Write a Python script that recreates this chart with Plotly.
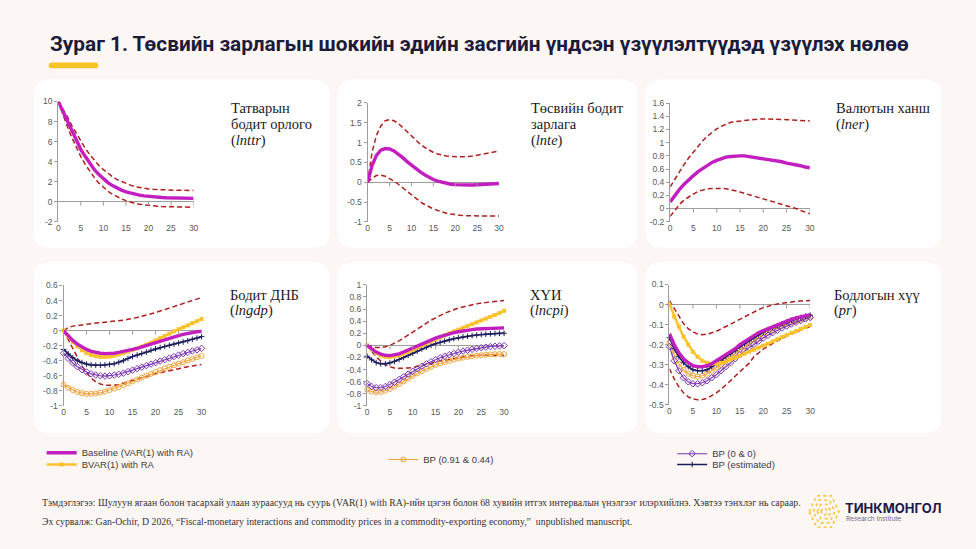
import plotly.graph_objects as go

W, H = 976, 549


def px(x):
    return x / W


def py(y):
    return 1 - y / H


# ---------------- data ----------------
horizon = list(range(31))
xtick_vals = [0, 5, 10, 15, 20, 25, 30]

# Panel 1: lnttr
lnttr_base = [10, 9.0, 8.0, 7.0, 6.1, 5.2, 4.5, 3.8, 3.2, 2.7, 2.25, 1.9, 1.6, 1.35, 1.15, 0.98,
              0.85, 0.74, 0.65, 0.58, 0.52, 0.48, 0.44, 0.41, 0.39, 0.37, 0.36, 0.35, 0.34, 0.34, 0.33]
lnttr_up = [10, 9.3, 8.5, 7.6, 6.8, 6.0, 5.3, 4.7, 4.1, 3.6, 3.2, 2.8, 2.5, 2.2, 2.0, 1.8,
            1.65, 1.5, 1.4, 1.33, 1.27, 1.23, 1.2, 1.18, 1.16, 1.15, 1.14, 1.13, 1.13, 1.12, 1.12]
lnttr_lo = [10, 8.7, 7.5, 6.4, 5.4, 4.5, 3.7, 3.0, 2.4, 1.85, 1.4, 1.05, 0.75, 0.5, 0.28, 0.1,
            -0.05, -0.17, -0.26, -0.33, -0.39, -0.43, -0.47, -0.49, -0.51, -0.53, -0.54, -0.55, -0.55, -0.56, -0.56]

# Panel 2: lnte
lnte_base = [0, 0.42, 0.68, 0.81, 0.85, 0.84, 0.79, 0.71, 0.62, 0.52, 0.43, 0.34, 0.26, 0.19, 0.12, 0.07,
             0.03, 0.0, -0.03, -0.05, -0.06, -0.07, -0.07, -0.07, -0.07, -0.065, -0.06, -0.05, -0.045, -0.04, -0.03]
lnte_up = [0, 0.75, 1.18, 1.42, 1.55, 1.58, 1.55, 1.48, 1.38, 1.27, 1.16, 1.05, 0.96, 0.88, 0.81, 0.75,
           0.71, 0.68, 0.66, 0.65, 0.64, 0.64, 0.645, 0.65, 0.66, 0.68, 0.70, 0.72, 0.74, 0.76, 0.79]
lnte_lo = [0, 0.1, 0.17, 0.18, 0.15, 0.1, 0.03, -0.05, -0.14, -0.23, -0.32, -0.41, -0.49, -0.56, -0.62, -0.67,
           -0.71, -0.75, -0.78, -0.8, -0.82, -0.83, -0.84, -0.845, -0.85, -0.85, -0.85, -0.85, -0.85, -0.85, -0.85]

# Panel 3: lner
lner_base = [0.1, 0.2, 0.29, 0.37, 0.44, 0.5, 0.56, 0.61, 0.66, 0.7, 0.73, 0.76, 0.78, 0.79, 0.8, 0.8,
             0.8, 0.79, 0.78, 0.77, 0.76, 0.75, 0.73, 0.72, 0.71, 0.69, 0.68, 0.66, 0.65, 0.63, 0.62]
lner_up = [0.33, 0.45, 0.56, 0.67, 0.77, 0.86, 0.95, 1.03, 1.1, 1.16, 1.21, 1.25, 1.28, 1.31, 1.32, 1.33,
           1.34, 1.35, 1.355, 1.36, 1.36, 1.36, 1.36, 1.355, 1.35, 1.35, 1.345, 1.34, 1.34, 1.335, 1.33]
lner_lo = [-0.12, -0.02, 0.06, 0.13, 0.18, 0.22, 0.26, 0.28, 0.3, 0.305, 0.31, 0.305, 0.3, 0.29, 0.27, 0.25,
           0.23, 0.21, 0.19, 0.17, 0.15, 0.13, 0.1, 0.08, 0.06, 0.04, 0.02, 0.0, -0.03, -0.05, -0.08]

# Panel 4: lngdp
lngdp_base = [0, -0.07, -0.13, -0.18, -0.22, -0.25, -0.275, -0.29, -0.3, -0.305, -0.305, -0.3, -0.29, -0.28, -0.265, -0.25,
              -0.235, -0.215, -0.195, -0.175, -0.155, -0.135, -0.115, -0.095, -0.08, -0.065, -0.05, -0.035, -0.025, -0.015, -0.01]
lngdp_bvar = [0, -0.08, -0.15, -0.21, -0.26, -0.3, -0.325, -0.34, -0.35, -0.35, -0.345, -0.335, -0.32, -0.3, -0.28, -0.26,
              -0.235, -0.21, -0.185, -0.16, -0.13, -0.1, -0.07, -0.04, -0.01, 0.02, 0.045, 0.07, 0.1, 0.125, 0.155]
lngdp_bp_est = [-0.25, -0.31, -0.36, -0.4, -0.425, -0.445, -0.455, -0.46, -0.46, -0.455, -0.45, -0.44, -0.42, -0.4, -0.37, -0.345,
                -0.325, -0.305, -0.285, -0.26, -0.24, -0.225, -0.21, -0.195, -0.18, -0.165, -0.15, -0.135, -0.115, -0.1, -0.08]
lngdp_bp00 = [-0.3, -0.37, -0.43, -0.48, -0.52, -0.55, -0.575, -0.59, -0.6, -0.605, -0.6, -0.59, -0.58, -0.565, -0.545, -0.525,
              -0.505, -0.485, -0.465, -0.445, -0.425, -0.405, -0.385, -0.365, -0.345, -0.325, -0.305, -0.29, -0.27, -0.255, -0.235]
lngdp_bp91 = [-0.72, -0.76, -0.79, -0.815, -0.83, -0.84, -0.84, -0.835, -0.825, -0.81, -0.79, -0.77, -0.75, -0.725, -0.7, -0.675,
              -0.65, -0.625, -0.6, -0.575, -0.55, -0.525, -0.5, -0.48, -0.46, -0.44, -0.42, -0.395, -0.375, -0.355, -0.335]
lngdp_up = [0, 0.04, 0.06, 0.07, 0.08, 0.09, 0.095, 0.1, 0.105, 0.11, 0.115, 0.12, 0.13, 0.14, 0.15, 0.16,
            0.175, 0.19, 0.205, 0.22, 0.24, 0.26, 0.28, 0.3, 0.32, 0.34, 0.36, 0.38, 0.4, 0.42, 0.44]
lngdp_lo = [0, -0.12, -0.24, -0.36, -0.47, -0.56, -0.63, -0.68, -0.71, -0.725, -0.73, -0.725, -0.715, -0.7, -0.685, -0.665,
            -0.645, -0.625, -0.605, -0.59, -0.575, -0.56, -0.545, -0.53, -0.515, -0.5, -0.49, -0.48, -0.47, -0.46, -0.45]

# Panel 5: lncpi
lncpi_base = [0, -0.06, -0.11, -0.145, -0.165, -0.17, -0.16, -0.14, -0.11, -0.075, -0.04, -0.005, 0.03, 0.065, 0.095, 0.12,
              0.145, 0.17, 0.19, 0.21, 0.225, 0.24, 0.25, 0.26, 0.27, 0.275, 0.28, 0.283, 0.285, 0.287, 0.288]
lncpi_bvar = [0, -0.07, -0.13, -0.17, -0.19, -0.195, -0.185, -0.165, -0.14, -0.11, -0.075, -0.04, -0.005, 0.03, 0.065, 0.1,
              0.13, 0.165, 0.2, 0.23, 0.26, 0.29, 0.32, 0.35, 0.38, 0.41, 0.44, 0.47, 0.5, 0.535, 0.57]
lncpi_bp_est = [-0.18, -0.24, -0.285, -0.305, -0.305, -0.29, -0.265, -0.235, -0.2, -0.165, -0.13, -0.095, -0.06, -0.03, 0.0, 0.025,
                0.05, 0.07, 0.09, 0.11, 0.125, 0.14, 0.15, 0.16, 0.17, 0.178, 0.185, 0.19, 0.195, 0.198, 0.2]
lncpi_bp00 = [-0.63, -0.68, -0.7, -0.7, -0.68, -0.65, -0.61, -0.565, -0.52, -0.475, -0.43, -0.385, -0.345, -0.305, -0.27, -0.235,
              -0.205, -0.18, -0.155, -0.135, -0.115, -0.095, -0.08, -0.065, -0.05, -0.04, -0.03, -0.02, -0.015, -0.01, -0.005]
lncpi_bp91 = [-0.73, -0.765, -0.775, -0.77, -0.75, -0.72, -0.68, -0.64, -0.595, -0.55, -0.505, -0.465, -0.425, -0.39, -0.355, -0.325,
              -0.3, -0.275, -0.255, -0.235, -0.22, -0.205, -0.19, -0.18, -0.17, -0.162, -0.155, -0.15, -0.147, -0.145, -0.145]
lncpi_up = [0, -0.02, -0.035, -0.035, -0.025, 0.0, 0.035, 0.075, 0.12, 0.17, 0.22, 0.27, 0.32, 0.37, 0.415, 0.455,
            0.495, 0.53, 0.56, 0.59, 0.615, 0.635, 0.655, 0.67, 0.685, 0.7, 0.71, 0.72, 0.73, 0.735, 0.74]
lncpi_lo = [0, -0.1, -0.19, -0.26, -0.32, -0.355, -0.375, -0.38, -0.38, -0.375, -0.365, -0.35, -0.335, -0.315, -0.295, -0.275,
            -0.26, -0.245, -0.23, -0.215, -0.2, -0.19, -0.18, -0.172, -0.166, -0.162, -0.16, -0.16, -0.162, -0.165, -0.17]

# Panel 6: pr
pr_base = [-0.145, -0.2, -0.24, -0.27, -0.29, -0.305, -0.31, -0.31, -0.305, -0.295, -0.28, -0.265, -0.25, -0.235, -0.22, -0.2,
           -0.185, -0.17, -0.155, -0.14, -0.13, -0.12, -0.11, -0.1, -0.09, -0.082, -0.074, -0.067, -0.06, -0.055, -0.05]
pr_bvar = [0, -0.06, -0.11, -0.16, -0.2, -0.235, -0.26, -0.28, -0.29, -0.295, -0.295, -0.29, -0.285, -0.275, -0.265, -0.255,
           -0.245, -0.235, -0.225, -0.215, -0.205, -0.195, -0.184, -0.173, -0.162, -0.152, -0.142, -0.132, -0.122, -0.112, -0.102]
pr_bp_est = [-0.165, -0.22, -0.26, -0.29, -0.31, -0.325, -0.33, -0.33, -0.325, -0.31, -0.295, -0.28, -0.26, -0.245, -0.23, -0.21,
             -0.195, -0.18, -0.165, -0.15, -0.137, -0.125, -0.115, -0.105, -0.095, -0.087, -0.078, -0.071, -0.064, -0.058, -0.053]
pr_bp00 = [-0.21, -0.28, -0.33, -0.365, -0.385, -0.395, -0.395, -0.39, -0.38, -0.365, -0.35, -0.33, -0.31, -0.29, -0.27, -0.25,
           -0.232, -0.215, -0.198, -0.182, -0.167, -0.153, -0.14, -0.128, -0.117, -0.107, -0.097, -0.088, -0.08, -0.072, -0.065]
pr_bp91 = [-0.19, -0.25, -0.295, -0.325, -0.345, -0.355, -0.36, -0.355, -0.345, -0.33, -0.315, -0.3, -0.28, -0.26, -0.245, -0.225,
           -0.21, -0.195, -0.18, -0.165, -0.152, -0.14, -0.128, -0.117, -0.107, -0.098, -0.09, -0.082, -0.075, -0.068, -0.062]
pr_up = [0.02, -0.02, -0.06, -0.095, -0.12, -0.137, -0.147, -0.15, -0.148, -0.142, -0.133, -0.122, -0.11, -0.097, -0.084, -0.07,
         -0.058, -0.046, -0.035, -0.025, -0.016, -0.008, -0.002, 0.003, 0.007, 0.011, 0.014, 0.016, 0.018, 0.019, 0.02]
pr_lo = [-0.32, -0.37, -0.41, -0.44, -0.46, -0.47, -0.475, -0.473, -0.467, -0.455, -0.44, -0.422, -0.402, -0.38, -0.357, -0.335,
         -0.313, -0.292, -0.26, -0.24, -0.222, -0.207, -0.193, -0.18, -0.168, -0.157, -0.146, -0.136, -0.127, -0.118, -0.11]

# y-axis tick labels per panel
yticks_lnttr = [-2, 0, 2, 4, 6, 8, 10]
yticks_lnte = [-1, -0.5, 0, 0.5, 1, 1.5, 2]
yticks_lner = [-0.2, 0, 0.2, 0.4, 0.6, 0.8, 1, 1.2, 1.4, 1.6]
yticks_lngdp = [-1, -0.8, -0.6, -0.4, -0.2, 0, 0.2, 0.4, 0.6]
yticks_lncpi = [-1, -0.8, -0.6, -0.4, -0.2, 0, 0.2, 0.4, 0.6, 0.8, 1]
yticks_pr = [-0.5, -0.4, -0.3, -0.2, -0.1, 0, 0.1]

series_names = {
    "base": "Baseline (VAR(1) with RA)",
    "bvar": "BVAR(1) with RA",
    "bp91": "BP (0.91 & 0.44)",
    "bp00": "BP (0 & 0)",
    "bpest": "BP (estimated)",
}

title_text = "Зураг 1. Төсвийн зарлагын шокийн эдийн засгийн үндсэн үзүүлэлтүүдэд үзүүлэх нөлөө"
note_text = ("Тэмдэглэгээ: Шулуун ягаан болон тасархай улаан зураасууд нь суурь (VAR(1) with RA)-ийн цэгэн болон "
             "68 хувийн итгэх интервалын үнэлгээг илэрхийлнэ. Хэвтээ тэнхлэг нь сараар.")
source_text = ("Эх сурвалж: Gan-Ochir, D 2026, “Fiscal-monetary interactions and commodity prices in a "
               "commodity-exporting economy,”  unpublished manuscript.")

# ---------------- styles ----------------
BG = "#fcf6f5"
AXIS = "#9c9c9c"
TICKFONT = dict(family="Liberation Sans, Arial, sans-serif", size=8.5, color="#595959")
SERIF = "Liberation Serif, Times New Roman, serif"

STY = {
    "band": dict(mode="lines", line=dict(color="#b01e1e", width=1.5, dash="5px,3px")),
    "base": dict(mode="lines", line=dict(color="#c21ec0", width=3.4)),
    "bvar": dict(mode="lines+markers", line=dict(color="#fcc22b", width=2.4),
                 marker=dict(symbol="square", size=4, color="#fcc22b")),
    "bp91": dict(mode="lines+markers", line=dict(color="#f0a23a", width=1.1),
                 marker=dict(symbol="circle-open", size=5, color="#f0a23a", line=dict(width=1))),
    "bp00": dict(mode="lines+markers", line=dict(color="#7a35b0", width=1.1),
                 marker=dict(symbol="diamond-open", size=5, color="#7a35b0", line=dict(width=1))),
    "bpest": dict(mode="lines+markers", line=dict(color="#1d1d5e", width=1.6),
                  marker=dict(symbol="cross-thin", size=4, color="#1d1d5e", line=dict(width=1, color="#1d1d5e"))),
}

panels = [
    dict(title=["Татварын", "бодит орлого", "(<i>lnttr</i>)"], tx=229, ty=105,
         xd=(56.7, 193), yd=(98.3, 220.7), yr=(-2, 10), yt=yticks_lnttr,
         series=[("band", lnttr_up), ("band", lnttr_lo), ("base", lnttr_base)]),
    dict(title=["Төсвийн бодит", "зарлага", "(<i>lnte</i>)"], tx=531, ty=105,
         xd=(368.3, 500.7), yd=(99.7, 221), yr=(-1, 2), yt=yticks_lnte,
         series=[("band", lnte_up), ("band", lnte_lo), ("base", lnte_base)]),
    dict(title=["Валютын ханш", "(<i>lner</i>)"], tx=838, ty=105,
         xd=(673, 813.7), yd=(100, 220.7), yr=(-0.2, 1.6), yt=yticks_lner,
         series=[("band", lner_up), ("band", lner_lo), ("base", lner_base)]),
    dict(title=["Бодит ДНБ", "(<i>lngdp</i>)"], tx=228, ty=295,
         xd=(62, 201), yd=(285.7, 408.3), yr=(-1, 0.6), yt=yticks_lngdp,
         series=[("band", lngdp_up), ("band", lngdp_lo), ("bp91", lngdp_bp91), ("bp00", lngdp_bp00),
                 ("bpest", lngdp_bp_est), ("bvar", lngdp_bvar), ("base", lngdp_base)], legend=True),
    dict(title=["ХҮИ", "(<i>lncpi</i>)"], tx=530, ty=295,
         xd=(367.7, 505.7), yd=(285, 408.3), yr=(-1, 1), yt=yticks_lncpi,
         series=[("band", lncpi_up), ("band", lncpi_lo), ("bp91", lncpi_bp91), ("bp00", lncpi_bp00),
                 ("bpest", lncpi_bp_est), ("bvar", lncpi_bvar), ("base", lncpi_base)]),
    dict(title=["Бодлогын хүү", "(<i>pr</i>)"], tx=836, ty=295,
         xd=(672.3, 814), yd=(284.7, 407.3), yr=(-0.5, 0.1), yt=yticks_pr,
         series=[("band", pr_up), ("band", pr_lo), ("bp91", pr_bp91), ("bp00", pr_bp00),
                 ("bpest", pr_bp_est), ("bvar", pr_bvar), ("base", pr_base)]),
]

legend_ids = {"base": "legend", "bvar": "legend2", "bp91": "legend3", "bp00": "legend4", "bpest": "legend5"}

fig = go.Figure()
shapes = []
annotations = []
layout_axes = {}


def fmt(v):
    return "%g" % v


for i, p in enumerate(panels, start=1):
    sfx = "" if i == 1 else str(i)
    for key, vals in p["series"]:
        st = STY[key]
        kw = dict(x=horizon, y=vals, xaxis="x" + sfx, yaxis="y" + sfx, hoverinfo="skip",
                  cliponaxis=False, showlegend=False)
        kw.update(st)
        if p.get("legend") and key != "band":
            kw["showlegend"] = True
            kw["name"] = series_names[key]
            kw["legend"] = legend_ids[key]
        fig.add_trace(go.Scatter(**kw))
    layout_axes["xaxis" + sfx] = dict(
        domain=[px(p["xd"][0]), px(p["xd"][1])], range=[0, 30], anchor="y" + sfx,
        showline=False, showgrid=False, zeroline=False, tickvals=xtick_vals,
        ticktext=[fmt(v) for v in xtick_vals], ticks="", tickfont=TICKFONT, fixedrange=True)
    layout_axes["yaxis" + sfx] = dict(
        domain=[py(p["yd"][1]), py(p["yd"][0])], range=list(p["yr"]), anchor="x" + sfx,
        showline=True, linecolor=AXIS, linewidth=1.3, ticks="outside", ticklen=3, tickcolor=AXIS,
        tickwidth=1, tickvals=p["yt"], ticktext=[fmt(v) for v in p["yt"]], showgrid=False,
        zeroline=True, zerolinecolor=AXIS, zerolinewidth=1.3, tickfont=TICKFONT, fixedrange=True)
    # tick marks on the horizontal axis at y = 0
    for v in xtick_vals[1:]:
        shapes.append(dict(type="line", xref="x" + sfx, yref="y" + sfx, x0=v, x1=v,
                           ysizemode="pixel", yanchor=0, y0=0, y1=-4,
                           line=dict(color=AXIS, width=1)))
    # panel title lines
    for k, line in enumerate(p["title"]):
        annotations.append(dict(text=line, x=px(p["tx"]), y=py(p["ty"] + k * 16.5), xref="paper", yref="paper",
                                xanchor="left", yanchor="middle", showarrow=False,
                                font=dict(family=SERIF, size=14.5, color="#1a1a1a")))


def rrect(x0, y0, x1, y1, r):
    rx, ry = r / W, r / H
    X0, X1, Y0, Y1 = px(x0), px(x1), py(y0), py(y1)  # Y0 top, Y1 bottom
    return (f"M {X0+rx},{Y0} L {X1-rx},{Y0} Q {X1},{Y0} {X1},{Y0-ry} L {X1},{Y1+ry} "
            f"Q {X1},{Y1} {X1-rx},{Y1} L {X0+rx},{Y1} Q {X0},{Y1} {X0},{Y1+ry} "
            f"L {X0},{Y0-ry} Q {X0},{Y0} {X0+rx},{Y0} Z")


panel_boxes_x = [(32, 330), (338, 640), (648, 946)]
panel_boxes_y = [(76, 247), (262, 436)]
for (ya0, ya1) in panel_boxes_y:
    for (xa0, xa1) in panel_boxes_x:
        shapes.append(dict(type="path", xref="paper", yref="paper", path=rrect(xa0, ya0, xa1, ya1, 16),
                           fillcolor="white", line=dict(width=0), layer="below"))

# yellow accent bar under the title
shapes.append(dict(type="path", xref="paper", yref="paper", path=rrect(47, 58.5, 97, 64.5, 3),
                   fillcolor="#f7c425", line=dict(width=0), layer="below"))

# logo hexagons (dotted)
cx, cy = 828, 516
for s in (1.0, 0.72, 0.45, 0.2):
    hw, hh = 15 * s, 16 * s
    pts = [(cx - hw, cy), (cx - hw / 2, cy - hh), (cx + hw / 2, cy - hh), (cx + hw, cy),
           (cx + hw / 2, cy + hh), (cx - hw / 2, cy + hh)]
    path = "M " + " L ".join(f"{px(a)},{py(b)}" for a, b in pts) + " Z"
    shapes.append(dict(type="path", xref="paper", yref="paper", path=path,
                       line=dict(color="#f6c83a", width=1.6, dash="dot"), layer="below"))

# title
annotations.append(dict(text="<b>" + title_text + "</b>", x=px(46), y=py(40), xref="paper", yref="paper",
                        xanchor="left", yanchor="middle", showarrow=False,
                        font=dict(family="Roboto, Inter, sans-serif", size=20.8, color="#1b1b3a")))
# footer
annotations.append(dict(text=note_text, x=px(38), y=py(507), xref="paper", yref="paper", xanchor="left",
                        yanchor="middle", showarrow=False, font=dict(family=SERIF, size=9.8, color="#333333")))
annotations.append(dict(text=source_text, x=px(38), y=py(526), xref="paper", yref="paper", xanchor="left",
                        yanchor="middle", showarrow=False, font=dict(family=SERIF, size=9.8, color="#333333")))
# logo text
annotations.append(dict(text="<b>ТИНКМОНГОЛ</b>", x=px(847), y=py(512), xref="paper", yref="paper",
                        xanchor="left", yanchor="middle", showarrow=False,
                        font=dict(family="Inter, Roboto, sans-serif", size=13, color="#1b1b4a")))
annotations.append(dict(text="Research Institute", x=px(848), y=py(524), xref="paper", yref="paper",
                        xanchor="left", yanchor="middle", showarrow=False,
                        font=dict(family="Inter, Roboto, sans-serif", size=6.5, color="#6a6a7a")))

LEGFONT = dict(family="Liberation Sans, Arial, sans-serif", size=9.5, color="#404040")


def leg(xp, yp):
    return dict(x=px(xp), y=py(yp), xanchor="left", yanchor="middle", xref="paper", yref="paper",
                bgcolor="rgba(0,0,0,0)", font=LEGFONT, itemwidth=30, borderwidth=0,
                itemclick=False, itemdoubleclick=False)


fig.update_layout(
    width=W, height=H, margin=dict(l=0, r=0, t=0, b=0),
    paper_bgcolor=BG, plot_bgcolor="rgba(0,0,0,0)",
    shapes=shapes, annotations=annotations,
    legend=leg(40, 456), legend2=leg(40, 468), legend3=leg(384, 463),
    legend4=leg(675, 457), legend5=leg(675, 468),
    **layout_axes,
)

fig.write_html("out.html")
